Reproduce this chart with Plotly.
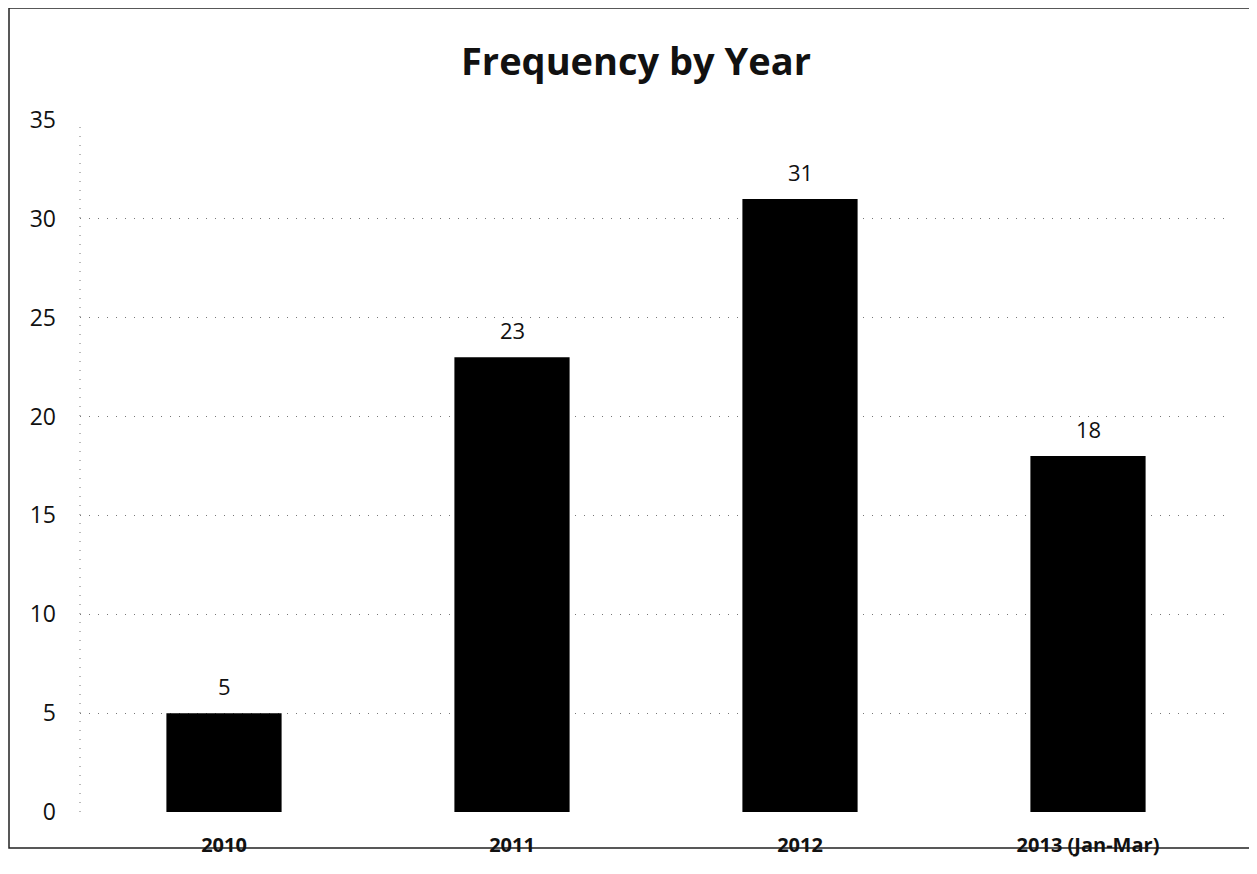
import plotly.graph_objects as go

categories = ["2010", "2011", "2012", "2013 (Jan-Mar)"]
values = [5, 23, 31, 18]
y_ticks = [0, 5, 10, 15, 20, 25, 30, 35]

W, H = 1257, 874
OFF = 8  # page body margin
L, R, T, B = 80 - OFF, 25 + OFF, 120 - OFF, 62 + OFF
pw, ph = W - L - R, H - T - B

FONT = "Open Sans, Lato, sans-serif"

fig = go.Figure(go.Bar(
    x=categories, y=values,
    marker=dict(color="#000000", line=dict(width=0)),
    cliponaxis=False,
))

# data labels (x given as category index, since category names look numeric)
for i, v in enumerate(values):
    fig.add_annotation(x=i, y=v, text=str(v), showarrow=False,
                       yanchor="middle", yshift=27,
                       font=dict(family=FONT, size=22, color="#111111"))

def px_x(p):
    return (p - OFF - L) / pw

def px_y(p):
    return (H - B - (p - OFF)) / ph

fig.update_layout(
    width=W, height=H,
    margin=dict(l=L, r=R, t=T, b=B),
    paper_bgcolor="white", plot_bgcolor="white",
    bargap=0.6,
    showlegend=False,
    title=dict(text="<b>Frequency by Year</b>", x=px_x(636), xanchor="center", xref="paper",
               y=1 - (62 - OFF) / H, yanchor="middle",
               font=dict(family=FONT, size=38, color="#111111")),
    xaxis=dict(type="category", categoryorder="array", categoryarray=categories,
               range=[-0.5, len(categories) - 0.5],
               showgrid=False, showline=False, ticks="",
               tickfont=dict(family=FONT, size=20, color="#111111", weight="bold"),
               ticklabelstandoff=19),
    yaxis=dict(range=[0, 35], tickvals=y_ticks, showgrid=True,
               gridcolor="#777777", griddash="1px,8px", gridwidth=1,
               zeroline=False, showline=False, ticks="",
               ticklabelstandoff=23,
               tickfont=dict(family=FONT, size=23, color="#111111")),
    shapes=[
        dict(type="line", xref="paper", yref="paper", x0=0, x1=0, y0=0, y1=1,
             line=dict(color="#777777", width=1, dash="1px,8px")),
        dict(type="rect", xref="paper", yref="paper",
             x0=px_x(9), x1=px_x(1255), y0=px_y(848), y1=px_y(8),
             line=dict(color="#222222", width=1.5), layer="below"),
    ],
)

fig.write_html("out.html")
